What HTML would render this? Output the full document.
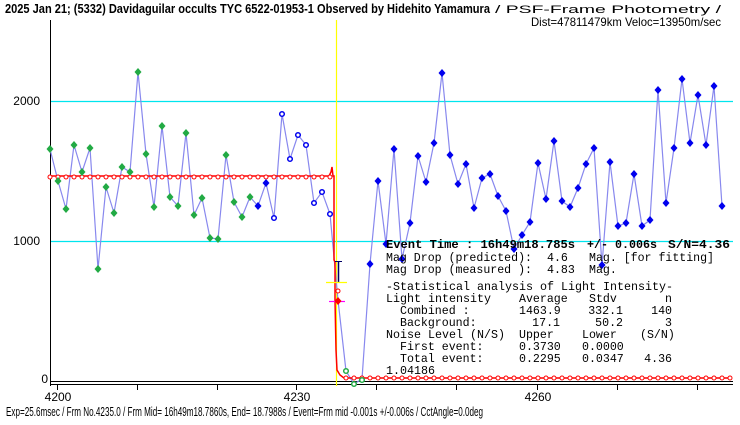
<!DOCTYPE html>
<html><head><meta charset="utf-8"><style>
html,body{margin:0;padding:0;background:#fff;}
svg{display:block;}
</style></head><body>
<svg width="740" height="425" xmlns="http://www.w3.org/2000/svg" font-family="Liberation Sans, sans-serif">
<rect width="740" height="425" fill="#fff"/>
<text x="5" y="13" font-size="13" font-weight="bold" textLength="485" lengthAdjust="spacingAndGlyphs">2025 Jan 21; (5332) Davidaguilar occults TYC 6522-01953-1 Observed by Hidehito Yamamura</text>
<text x="495" y="13" font-size="11" textLength="226" lengthAdjust="spacingAndGlyphs">/ PSF-Frame Photometry /</text>
<text x="531" y="26" font-size="12" textLength="190" lengthAdjust="spacingAndGlyphs">Dist=47811479km Veloc=13950m/sec</text>
<line x1="50" y1="101.5" x2="733" y2="101.5" stroke="#00e5ee" stroke-width="1.2"/>
<line x1="50" y1="241.5" x2="733" y2="241.5" stroke="#00e5ee" stroke-width="1.2"/>
<line x1="50.5" y1="20" x2="50.5" y2="386" stroke="#000"/>
<line x1="50" y1="381.5" x2="733" y2="381.5" stroke="#000"/>
<line x1="50" y1="384.5" x2="733" y2="384.5" stroke="#000"/>
<g stroke="#000">
<line x1="57.5" y1="385" x2="57.5" y2="390"/><line x1="137.5" y1="385" x2="137.5" y2="390"/><line x1="217.5" y1="385" x2="217.5" y2="390"/><line x1="296.5" y1="385" x2="296.5" y2="390"/><line x1="376.5" y1="385" x2="376.5" y2="390"/><line x1="456.5" y1="385" x2="456.5" y2="390"/><line x1="537.5" y1="385" x2="537.5" y2="390"/><line x1="617.5" y1="385" x2="617.5" y2="390"/><line x1="697.5" y1="385" x2="697.5" y2="390"/>
</g>
<g font-size="12" text-anchor="middle">
<text x="58" y="401">4200</text><text x="297" y="401">4230</text><text x="538" y="401">4260</text>
</g>
<g font-size="12" text-anchor="end">
<text x="40" y="105">2000</text><text x="40" y="245">1000</text><text x="48" y="383">0</text>
</g>
<line x1="336.5" y1="20" x2="336.5" y2="386" stroke="#ffff00" stroke-width="1.2"/>
<polyline fill="none" stroke="#8888ee" stroke-width="1.2" points="50,149 58,181 66,209 74,145 82,172 90,148 98,269 106,187 114,213 122,167 130,172 138,72 146,154 154,207 162,126 170,197 178,206 186,133 194,215 202,198 210,238 218,239 226,155 234,202 242,217 250,197 258,206 266,183 274,218 282,114 290,159 298,135 306,145 314,203 322,192 330,214 338,300 346,371 354,384 362,379 370,264 378,181 386,244 394,149 402,259 410,223 418,156 426,182 434,143 442,73 450,155 458,184 466,164 474,208 482,178 490,174 498,196 506,211 514,249 522,235 530,222 538,163 546,199 554,141 562,201 570,207 578,188 586,164 594,148 602,265 610,162 618,226 626,223 634,174 642,226 650,220 658,90 666,203 674,148 682,79 690,143 698,95 706,145 714,86 722,206"/>
<polyline fill="none" stroke="#ff0000" stroke-width="1.5" points="50,176 329,176 331,172 332,167 333,176 334,176 334,260 335,262 335,300 336,350 337,370 340,375 344,378 728,378"/>
<g fill="#fff" stroke="#ff0000" stroke-width="1">
<circle cx="50" cy="177" r="2"/><circle cx="58" cy="177" r="2"/><circle cx="66" cy="177" r="2"/><circle cx="74" cy="177" r="2"/><circle cx="82" cy="177" r="2"/><circle cx="90" cy="177" r="2"/><circle cx="98" cy="177" r="2"/><circle cx="106" cy="177" r="2"/><circle cx="114" cy="177" r="2"/><circle cx="122" cy="177" r="2"/><circle cx="130" cy="177" r="2"/><circle cx="138" cy="177" r="2"/><circle cx="146" cy="177" r="2"/><circle cx="154" cy="177" r="2"/><circle cx="162" cy="177" r="2"/><circle cx="170" cy="177" r="2"/><circle cx="178" cy="177" r="2"/><circle cx="186" cy="177" r="2"/><circle cx="194" cy="177" r="2"/><circle cx="202" cy="177" r="2"/><circle cx="210" cy="177" r="2"/><circle cx="218" cy="177" r="2"/><circle cx="226" cy="177" r="2"/><circle cx="234" cy="177" r="2"/><circle cx="242" cy="177" r="2"/><circle cx="250" cy="177" r="2"/><circle cx="258" cy="177" r="2"/><circle cx="266" cy="177" r="2"/><circle cx="274" cy="177" r="2"/><circle cx="282" cy="177" r="2"/><circle cx="290" cy="177" r="2"/><circle cx="298" cy="177" r="2"/><circle cx="306" cy="177" r="2"/><circle cx="314" cy="177" r="2"/><circle cx="322" cy="177" r="2"/><circle cx="330" cy="177" r="2"/>
<circle cx="338" cy="291" r="2"/>
<circle cx="346" cy="378" r="2"/><circle cx="354" cy="378" r="2"/><circle cx="362" cy="378" r="2"/><circle cx="370" cy="378" r="2"/><circle cx="378" cy="378" r="2"/><circle cx="386" cy="378" r="2"/><circle cx="394" cy="378" r="2"/><circle cx="402" cy="378" r="2"/><circle cx="410" cy="378" r="2"/><circle cx="418" cy="378" r="2"/><circle cx="426" cy="378" r="2"/><circle cx="434" cy="378" r="2"/><circle cx="442" cy="378" r="2"/><circle cx="450" cy="378" r="2"/><circle cx="458" cy="378" r="2"/><circle cx="466" cy="378" r="2"/><circle cx="474" cy="378" r="2"/><circle cx="482" cy="378" r="2"/><circle cx="490" cy="378" r="2"/><circle cx="498" cy="378" r="2"/><circle cx="506" cy="378" r="2"/><circle cx="514" cy="378" r="2"/><circle cx="522" cy="378" r="2"/><circle cx="530" cy="378" r="2"/><circle cx="538" cy="378" r="2"/><circle cx="546" cy="378" r="2"/><circle cx="554" cy="378" r="2"/><circle cx="562" cy="378" r="2"/><circle cx="570" cy="378" r="2"/><circle cx="578" cy="378" r="2"/><circle cx="586" cy="378" r="2"/><circle cx="594" cy="378" r="2"/><circle cx="602" cy="378" r="2"/><circle cx="610" cy="378" r="2"/><circle cx="618" cy="378" r="2"/><circle cx="626" cy="378" r="2"/><circle cx="634" cy="378" r="2"/><circle cx="642" cy="378" r="2"/><circle cx="650" cy="378" r="2"/><circle cx="658" cy="378" r="2"/><circle cx="666" cy="378" r="2"/><circle cx="674" cy="378" r="2"/><circle cx="682" cy="378" r="2"/><circle cx="690" cy="378" r="2"/><circle cx="698" cy="378" r="2"/><circle cx="706" cy="378" r="2"/><circle cx="714" cy="378" r="2"/><circle cx="722" cy="378" r="2"/><circle cx="730" cy="378" r="2"/>
</g>
<g fill="#22aa44">
<path d="M50,145l3.5,4l-3.5,4l-3.5,-4z"/><path d="M58,177l3.5,4l-3.5,4l-3.5,-4z"/><path d="M66,205l3.5,4l-3.5,4l-3.5,-4z"/><path d="M74,141l3.5,4l-3.5,4l-3.5,-4z"/><path d="M82,168l3.5,4l-3.5,4l-3.5,-4z"/><path d="M90,144l3.5,4l-3.5,4l-3.5,-4z"/><path d="M98,265l3.5,4l-3.5,4l-3.5,-4z"/><path d="M106,183l3.5,4l-3.5,4l-3.5,-4z"/><path d="M114,209l3.5,4l-3.5,4l-3.5,-4z"/><path d="M122,163l3.5,4l-3.5,4l-3.5,-4z"/><path d="M130,168l3.5,4l-3.5,4l-3.5,-4z"/><path d="M138,68l3.5,4l-3.5,4l-3.5,-4z"/><path d="M146,150l3.5,4l-3.5,4l-3.5,-4z"/><path d="M154,203l3.5,4l-3.5,4l-3.5,-4z"/><path d="M162,122l3.5,4l-3.5,4l-3.5,-4z"/><path d="M170,193l3.5,4l-3.5,4l-3.5,-4z"/><path d="M178,202l3.5,4l-3.5,4l-3.5,-4z"/><path d="M186,129l3.5,4l-3.5,4l-3.5,-4z"/><path d="M194,211l3.5,4l-3.5,4l-3.5,-4z"/><path d="M202,194l3.5,4l-3.5,4l-3.5,-4z"/><path d="M210,234l3.5,4l-3.5,4l-3.5,-4z"/><path d="M218,235l3.5,4l-3.5,4l-3.5,-4z"/><path d="M226,151l3.5,4l-3.5,4l-3.5,-4z"/><path d="M234,198l3.5,4l-3.5,4l-3.5,-4z"/><path d="M242,213l3.5,4l-3.5,4l-3.5,-4z"/><path d="M250,193l3.5,4l-3.5,4l-3.5,-4z"/>
</g>
<g fill="#0000ee">
<path d="M258,202l3.5,4l-3.5,4l-3.5,-4z"/><path d="M266,179l3.5,4l-3.5,4l-3.5,-4z"/>
<path d="M370,260l3.5,4l-3.5,4l-3.5,-4z"/><path d="M378,177l3.5,4l-3.5,4l-3.5,-4z"/><path d="M386,240l3.5,4l-3.5,4l-3.5,-4z"/><path d="M394,145l3.5,4l-3.5,4l-3.5,-4z"/><path d="M402,255l3.5,4l-3.5,4l-3.5,-4z"/><path d="M410,219l3.5,4l-3.5,4l-3.5,-4z"/><path d="M418,152l3.5,4l-3.5,4l-3.5,-4z"/><path d="M426,178l3.5,4l-3.5,4l-3.5,-4z"/><path d="M434,139l3.5,4l-3.5,4l-3.5,-4z"/><path d="M442,69l3.5,4l-3.5,4l-3.5,-4z"/><path d="M450,151l3.5,4l-3.5,4l-3.5,-4z"/><path d="M458,180l3.5,4l-3.5,4l-3.5,-4z"/><path d="M466,160l3.5,4l-3.5,4l-3.5,-4z"/><path d="M474,204l3.5,4l-3.5,4l-3.5,-4z"/><path d="M482,174l3.5,4l-3.5,4l-3.5,-4z"/><path d="M490,170l3.5,4l-3.5,4l-3.5,-4z"/><path d="M498,192l3.5,4l-3.5,4l-3.5,-4z"/><path d="M506,207l3.5,4l-3.5,4l-3.5,-4z"/><path d="M514,245l3.5,4l-3.5,4l-3.5,-4z"/><path d="M522,231l3.5,4l-3.5,4l-3.5,-4z"/><path d="M530,218l3.5,4l-3.5,4l-3.5,-4z"/><path d="M538,159l3.5,4l-3.5,4l-3.5,-4z"/><path d="M546,195l3.5,4l-3.5,4l-3.5,-4z"/><path d="M554,137l3.5,4l-3.5,4l-3.5,-4z"/><path d="M562,197l3.5,4l-3.5,4l-3.5,-4z"/><path d="M570,203l3.5,4l-3.5,4l-3.5,-4z"/><path d="M578,184l3.5,4l-3.5,4l-3.5,-4z"/><path d="M586,160l3.5,4l-3.5,4l-3.5,-4z"/><path d="M594,144l3.5,4l-3.5,4l-3.5,-4z"/><path d="M602,261l3.5,4l-3.5,4l-3.5,-4z"/><path d="M610,158l3.5,4l-3.5,4l-3.5,-4z"/><path d="M618,222l3.5,4l-3.5,4l-3.5,-4z"/><path d="M626,219l3.5,4l-3.5,4l-3.5,-4z"/><path d="M634,170l3.5,4l-3.5,4l-3.5,-4z"/><path d="M642,222l3.5,4l-3.5,4l-3.5,-4z"/><path d="M650,216l3.5,4l-3.5,4l-3.5,-4z"/><path d="M658,86l3.5,4l-3.5,4l-3.5,-4z"/><path d="M666,199l3.5,4l-3.5,4l-3.5,-4z"/><path d="M674,144l3.5,4l-3.5,4l-3.5,-4z"/><path d="M682,75l3.5,4l-3.5,4l-3.5,-4z"/><path d="M690,139l3.5,4l-3.5,4l-3.5,-4z"/><path d="M698,91l3.5,4l-3.5,4l-3.5,-4z"/><path d="M706,141l3.5,4l-3.5,4l-3.5,-4z"/><path d="M714,82l3.5,4l-3.5,4l-3.5,-4z"/><path d="M722,202l3.5,4l-3.5,4l-3.5,-4z"/>
</g>
<g fill="#fff" stroke="#0000ee" stroke-width="1.5">
<circle cx="274" cy="218" r="2.3"/><circle cx="282" cy="114" r="2.3"/><circle cx="290" cy="159" r="2.3"/><circle cx="298" cy="135" r="2.3"/><circle cx="306" cy="145" r="2.3"/><circle cx="314" cy="203" r="2.3"/><circle cx="322" cy="192" r="2.3"/><circle cx="330" cy="214" r="2.3"/>
</g>
<g fill="#fff" stroke="#22aa44" stroke-width="1.5">
<circle cx="346" cy="371" r="2.3"/><circle cx="354" cy="384" r="2.3"/><circle cx="362" cy="380" r="2.3"/>
</g>
<line x1="338.5" y1="261" x2="338.5" y2="282" stroke="#000066" stroke-width="1.5"/>
<line x1="335" y1="261.5" x2="342" y2="261.5" stroke="#000066"/>
<line x1="326" y1="282.5" x2="347" y2="282.5" stroke="#ffff00" stroke-width="1.2"/>
<line x1="329" y1="301.5" x2="345" y2="301.5" stroke="#ff00ff" stroke-width="1.2"/>
<path d="M338,297l3.5,4l-3.5,4l-3.5,-4z" fill="#ff0000"/>
<g font-family="Liberation Mono, monospace" font-size="11.6">
<text x="386" y="248" font-weight="bold" font-size="12" textLength="189" lengthAdjust="spacingAndGlyphs">Event Time : 16h49m18.785s</text>
<text x="587" y="248" font-weight="bold" font-size="12" textLength="70" lengthAdjust="spacingAndGlyphs">+/- 0.006s</text>
<text x="668" y="248" font-weight="bold" font-size="12" textLength="62" lengthAdjust="spacingAndGlyphs">S/N=4.36</text>
<text x="386" y="261" textLength="146" lengthAdjust="spacingAndGlyphs">Mag Drop (predicted):</text>
<text x="547" y="261">4.6</text>
<text x="589" y="261" textLength="125" lengthAdjust="spacingAndGlyphs">Mag. [for fitting]</text>
<text x="386" y="273" textLength="146" lengthAdjust="spacingAndGlyphs">Mag Drop (measured ):</text>
<text x="547" y="273">4.83</text>
<text x="589" y="273">Mag.</text>
<text x="386" y="290" textLength="287" lengthAdjust="spacingAndGlyphs">-Statistical analysis of Light Intensity-</text>
<text x="386" y="302" textLength="105" lengthAdjust="spacingAndGlyphs">Light intensity</text>
<text x="519" y="302">Average</text><text x="589" y="302">Stdv</text><text x="672" y="302" text-anchor="end">n</text>
<text x="400" y="314">Combined  :</text>
<text x="519" y="314">1463.9</text><text x="623" y="314" text-anchor="end">332.1</text><text x="672" y="314" text-anchor="end">140</text>
<text x="400" y="326">Background:</text>
<text x="560" y="326" text-anchor="end">17.1</text><text x="623" y="326" text-anchor="end">50.2</text><text x="672" y="326" text-anchor="end">3</text>
<text x="386" y="338" textLength="119" lengthAdjust="spacingAndGlyphs">Noise Level (N/S)</text>
<text x="519" y="338">Upper</text><text x="582" y="338">Lower</text><text x="640" y="338">(S/N)</text>
<text x="400" y="350">First event:</text>
<text x="519" y="350">0.3730</text><text x="582" y="350">0.0000</text>
<text x="400" y="362">Total event:</text>
<text x="519" y="362">0.2295</text><text x="582" y="362">0.0347</text><text x="672" y="362" text-anchor="end">4.36</text>
<text x="386" y="374" textLength="49" lengthAdjust="spacingAndGlyphs">1.04186</text>
</g>
<text x="6" y="416" font-size="13" textLength="477" lengthAdjust="spacingAndGlyphs">Exp=25.6msec / Frm No.4235.0 / Frm Mid= 16h49m18.7860s,  End= 18.7988s / Event=Frm mid -0.001s +/-0.006s / CctAngle=0.0deg</text>
</svg>
</body></html>
